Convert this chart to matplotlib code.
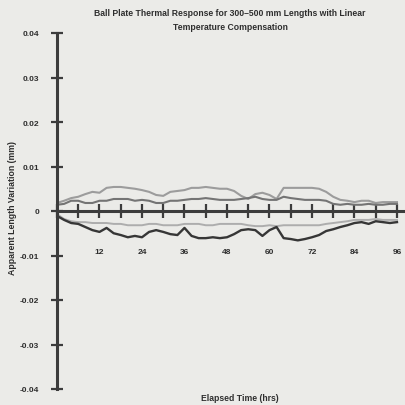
# Ball plate thermal response chart
import matplotlib.pyplot as plt
import numpy as np

# Data (mm), read every 2 hrs
hours = list(range(0, 97, 2))

upper_light = [0.0018, 0.0023, 0.0029, 0.0032, 0.0038, 0.0043, 0.0041, 0.0052, 0.0054, 0.0054,
               0.0052, 0.0050, 0.0047, 0.0043, 0.0036, 0.0034, 0.0043, 0.0045, 0.0047, 0.0052,
               0.0052, 0.0054, 0.0052, 0.0050, 0.0050, 0.0045, 0.0034, 0.0027, 0.0038, 0.0041,
               0.0036, 0.0027, 0.0052, 0.0052, 0.0052, 0.0052, 0.0052, 0.0050, 0.0043, 0.0032,
               0.0025, 0.0023, 0.0020, 0.0023, 0.0023, 0.0018, 0.0020, 0.0020, 0.0020]

upper_dark = [0.0014, 0.0016, 0.0023, 0.0023, 0.0018, 0.0018, 0.0023, 0.0023, 0.0027, 0.0027,
              0.0027, 0.0023, 0.0025, 0.0023, 0.0018, 0.0018, 0.0023, 0.0023, 0.0025, 0.0027,
              0.0027, 0.0029, 0.0027, 0.0025, 0.0025, 0.0025, 0.0027, 0.0029, 0.0032, 0.0027,
              0.0025, 0.0025, 0.0032, 0.0029, 0.0027, 0.0025, 0.0025, 0.0025, 0.0023, 0.0016,
              0.0014, 0.0016, 0.0014, 0.0014, 0.0016, 0.0014, 0.0014, 0.0016, 0.0016]

lower_light = [-0.0007, -0.0018, -0.0023, -0.0025, -0.0025, -0.0027, -0.0027, -0.0027, -0.0029, -0.0029,
               -0.0032, -0.0032, -0.0032, -0.0029, -0.0029, -0.0032, -0.0032, -0.0032, -0.0029, -0.0029,
               -0.0029, -0.0032, -0.0032, -0.0029, -0.0029, -0.0029, -0.0029, -0.0032, -0.0034, -0.0034,
               -0.0032, -0.0034, -0.0032, -0.0032, -0.0032, -0.0032, -0.0032, -0.0032, -0.0029, -0.0027,
               -0.0025, -0.0023, -0.0020, -0.0020, -0.0020, -0.0018, -0.0020, -0.0020, -0.0020]

lower_dark = [-0.0011, -0.0020, -0.0027, -0.0029, -0.0036, -0.0043, -0.0047, -0.0038, -0.0050, -0.0054,
              -0.0059, -0.0056, -0.0059, -0.0047, -0.0043, -0.0047, -0.0052, -0.0054, -0.0038, -0.0056,
              -0.0061, -0.0061, -0.0059, -0.0061, -0.0059, -0.0052, -0.0043, -0.0041, -0.0043, -0.0056,
              -0.0043, -0.0036, -0.0061, -0.0063, -0.0066, -0.0063, -0.0059, -0.0054, -0.0045, -0.0041,
              -0.0036, -0.0032, -0.0027, -0.0025, -0.0029, -0.0023, -0.0025, -0.0027, -0.0025]

x_ticks = list(range(0, 97, 6))
x_labels = ['' if (t == 0 or t % 12) else str(t) for t in x_ticks]
y_ticks = [0.04, 0.03, 0.02, 0.01, 0, -0.01, -0.02, -0.03, -0.04]
y_labels = ['0.04', '0.03', '0.02', '0.01', '0', '-0.01', '-0.02', '-0.03', '-0.04']

plt.rcParams['font.family'] = ['Liberation Sans', 'DejaVu Sans']
bg = '#ebebe8'
ink = '#2e2e2e'
axis_col = '#3c3c3c'

fig = plt.figure(figsize=(4.05, 4.06), dpi=100, facecolor=bg)
ax = fig.add_axes([57 / 405, 16 / 406, 346 / 405, 356 / 406], facecolor=bg)

ax.plot(hours, upper_light, color='#9c9c9c', lw=1.5)
ax.plot(hours, upper_dark, color='#747474', lw=1.5)
ax.plot(hours, lower_light, color='#adadad', lw=1.4)
ax.plot(hours, lower_dark, color='#363636', lw=1.7)

ax.set_xlim(0, 97.7)
ax.set_ylim(-0.04, 0.04)

for s in ['top', 'right']:
    ax.spines[s].set_visible(False)
ax.spines['bottom'].set_position(('data', 0))
ax.spines['bottom'].set_linewidth(2.2)
ax.spines['bottom'].set_color(axis_col)
ax.spines['left'].set_linewidth(2.2)
ax.spines['left'].set_color(axis_col)

ax.set_xticks(x_ticks)
ax.set_xticklabels(x_labels, fontsize=6, fontweight='bold', color=ink)
ax.tick_params(axis='x', direction='inout', length=10, width=1.6, color=axis_col, pad=22)
ax.set_yticks(y_ticks)
ax.set_yticklabels(y_labels, fontsize=6, fontweight='bold', color=ink)
ax.tick_params(axis='y', direction='inout', length=8, width=1.6, color=axis_col, pad=9)

fig.text(230 / 405, 1 - 14 / 406, 'Ball Plate Thermal Response for 300\u2013500 mm Lengths with Linear',
         ha='center', va='center', fontsize=6.2, fontweight='bold', color=ink)
fig.text(230 / 405, 1 - 27 / 406, 'Temperature Compensation',
         ha='center', va='center', fontsize=6.2, fontweight='bold', color=ink)
fig.text(13 / 405, 1 - 208 / 406, 'Apparent Length Variation (mm)', rotation=90,
         ha='center', va='center', fontsize=6.3, fontweight='bold', color=ink)
fig.text(240 / 405, 1 - 399 / 406, 'Elapsed Time (hrs)',
         ha='center', va='center', fontsize=6.2, fontweight='bold', color=ink)

fig.savefig('out.png', dpi=100, facecolor=bg)
